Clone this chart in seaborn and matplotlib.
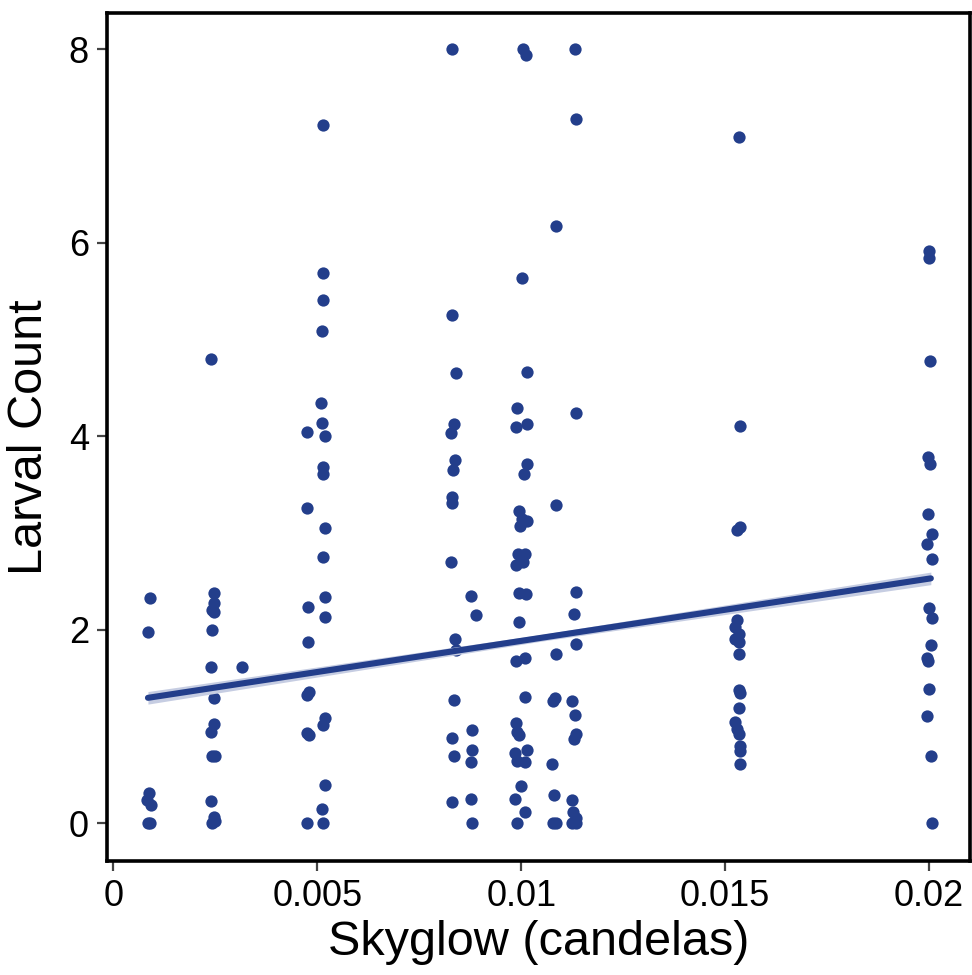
import numpy as np
import pandas as pd
import matplotlib
matplotlib.use("Agg")
import matplotlib.pyplot as plt
import seaborn as sns

# ---- data ----
skyglow = [
    # ~0.0009
    0.00090, 0.00085, 0.00088, 0.00082, 0.00092, 0.00086, 0.00090,
    # ~0.0024
    0.00240, 0.00248, 0.00246, 0.00243, 0.00248, 0.00243, 0.00240, 0.00315,
    0.00248, 0.00248, 0.00240, 0.00242, 0.00250, 0.00240, 0.00248, 0.00243, 0.00250,
    # ~0.005
    0.00515, 0.00515, 0.00515, 0.00512, 0.00510, 0.00512, 0.00475, 0.00518,
    0.00513, 0.00513, 0.00475, 0.00518, 0.00515, 0.00518, 0.00477, 0.00518,
    0.00477, 0.00475, 0.00480, 0.00518, 0.00515, 0.00475, 0.00480, 0.00518,
    0.00512, 0.00475, 0.00515,
    # ~0.0083
    0.00830, 0.00830, 0.00840, 0.00835, 0.00828, 0.00838, 0.00832, 0.00830,
    0.00830, 0.00828, 0.00838, 0.00840, 0.00836, 0.00830, 0.00834, 0.00830,
    # ~0.0088
    0.00876, 0.00888, 0.00880, 0.00880, 0.00878, 0.00876, 0.00880,
    # ~0.01
    0.01005, 0.01012, 0.01002, 0.01014, 0.00990, 0.00988, 0.01013, 0.01013,
    0.01007, 0.00995, 0.01003, 0.01015, 0.00998, 0.00993, 0.01010, 0.00988,
    0.01005, 0.00995, 0.01012, 0.00995, 0.00988, 0.01010, 0.01010, 0.00988,
    0.00990, 0.00995, 0.00985, 0.00990, 0.01015, 0.01010, 0.01000, 0.00985,
    0.01008, 0.00990,
    # ~0.0108
    0.01086, 0.01085, 0.01086, 0.01083, 0.01078, 0.01076, 0.01080, 0.01078, 0.01086,
    # ~0.0113
    0.01132, 0.01135, 0.01133, 0.01133, 0.01130, 0.01133, 0.01125, 0.01132,
    0.01135, 0.01130, 0.01125, 0.01128, 0.01135, 0.01125, 0.01135,
    # ~0.0153
    0.01533, 0.01535, 0.01530, 0.01535, 0.01530, 0.01525, 0.01533, 0.01525,
    0.01533, 0.01533, 0.01533, 0.01537, 0.01533, 0.01525, 0.01530, 0.01533,
    0.01537, 0.01535, 0.01537,
    # ~0.02
    0.02000, 0.02000, 0.02002, 0.01997, 0.02003, 0.01997, 0.02007, 0.01995,
    0.02007, 0.02000, 0.02007, 0.02005, 0.01995, 0.01997, 0.02000, 0.01995,
    0.02005, 0.02007,
]
larval_count = [
    2.33, 1.98, 0.31, 0.24, 0.19, 0.00, 0.00,
    4.80, 2.38, 2.28, 2.21, 2.18, 2.00, 1.62, 1.62,
    1.30, 1.03, 0.94, 0.70, 0.70, 0.23, 0.07, 0.00, 0.02,
    7.22, 5.69, 5.41, 5.09, 4.35, 4.14, 4.05, 4.00,
    3.68, 3.61, 3.26, 3.05, 2.75, 2.34, 2.24, 2.13,
    1.87, 1.33, 1.36, 1.09, 1.02, 0.93, 0.91, 0.40,
    0.15, 0.00, 0.00,
    8.00, 5.25, 4.65, 4.13, 4.03, 3.76, 3.65, 3.37,
    3.31, 2.70, 1.90, 1.79, 1.27, 0.88, 0.70, 0.22,
    2.35, 2.15, 0.96, 0.76, 0.63, 0.25, 0.00,
    8.00, 7.94, 5.64, 4.67, 4.29, 4.10, 4.13, 3.71,
    3.61, 3.23, 3.15, 3.12, 3.07, 2.78, 2.78, 2.67,
    2.70, 2.38, 2.37, 2.08, 1.68, 1.71, 1.31, 1.04,
    0.94, 0.91, 0.73, 0.64, 0.76, 0.63, 0.39, 0.25,
    0.12, 0.00,
    6.18, 3.29, 1.75, 1.29, 1.26, 0.61, 0.29, 0.00, 0.00,
    8.00, 7.28, 4.24, 2.39, 2.16, 1.85, 1.26, 1.12,
    0.92, 0.87, 0.24, 0.12, 0.05, 0.00, 0.00,
    7.09, 4.11, 3.03, 3.06, 2.10, 2.03, 1.96, 1.90,
    1.87, 1.75, 1.38, 1.35, 1.19, 1.05, 0.97, 0.92,
    0.80, 0.75, 0.61,
    5.92, 5.84, 4.78, 3.79, 3.71, 3.20, 2.99, 2.89,
    2.73, 2.23, 2.12, 1.84, 1.71, 1.68, 1.39, 1.11,
    0.70, 0.00,
]

# fitted model line and its confidence band
fit_x = [0.00085, 0.0105, 0.02004]
fit_y = [1.297, 1.918, 2.532]
fit_halfwidth = [0.065, 0.035, 0.065]

x_ticks = [0, 0.005, 0.01, 0.015, 0.02]
x_tick_labels = ["0", "0.005", "0.01", "0.015", "0.02"]
y_ticks = [0, 2, 4, 6, 8]
y_tick_labels = ["0", "2", "4", "6", "8"]

df = pd.DataFrame({"Skyglow": skyglow, "Larval": larval_count})
fit_df = pd.DataFrame({"x": fit_x, "y": fit_y, "hw": fit_halfwidth})

sns.set_theme(style="ticks")
plt.rcParams["font.family"] = ["Liberation Sans", "DejaVu Sans"]
plt.rcParams["text.color"] = "black"
plt.rcParams["axes.labelcolor"] = "black"

blue = "#233e8b"
band = "#c6cde2"
fig = plt.figure(figsize=(9.72, 9.75), dpi=100)
ax = fig.add_axes([107 / 972, 1 - 861 / 975, (970 - 107) / 972, (861 - 12.7) / 975])

sns.scatterplot(data=df, x="Skyglow", y="Larval", ax=ax, s=78, color=blue,
                linewidth=0, alpha=1, zorder=2)
ax.fill_between(fit_df["x"], fit_df["y"] - fit_df["hw"], fit_df["y"] + fit_df["hw"],
                color=band, linewidth=0, zorder=3)
sns.lineplot(data=fit_df, x="x", y="y", ax=ax, color=blue, lw=4.4, zorder=4)

ax.set_xlim(-0.000154, 0.0210)
ax.set_ylim(-0.39, 8.38)
ax.set_xticks(x_ticks)
ax.set_xticklabels(x_tick_labels)
ax.set_yticks(y_ticks)
ax.set_yticklabels(y_tick_labels)
ax.tick_params(axis="both", labelsize=26, length=7, width=1.6, color="#444444",
               direction="out", pad=6, labelcolor="black")
for s in ax.spines.values():
    s.set_visible(True)
    s.set_linewidth(2.6)
    s.set_color("black")
ax.set_xlabel("Skyglow (candelas)", fontsize=35, labelpad=4, color="black")
ax.set_ylabel("Larval Count", fontsize=35, labelpad=12, color="black")

fig.savefig("out.png", dpi=100)
